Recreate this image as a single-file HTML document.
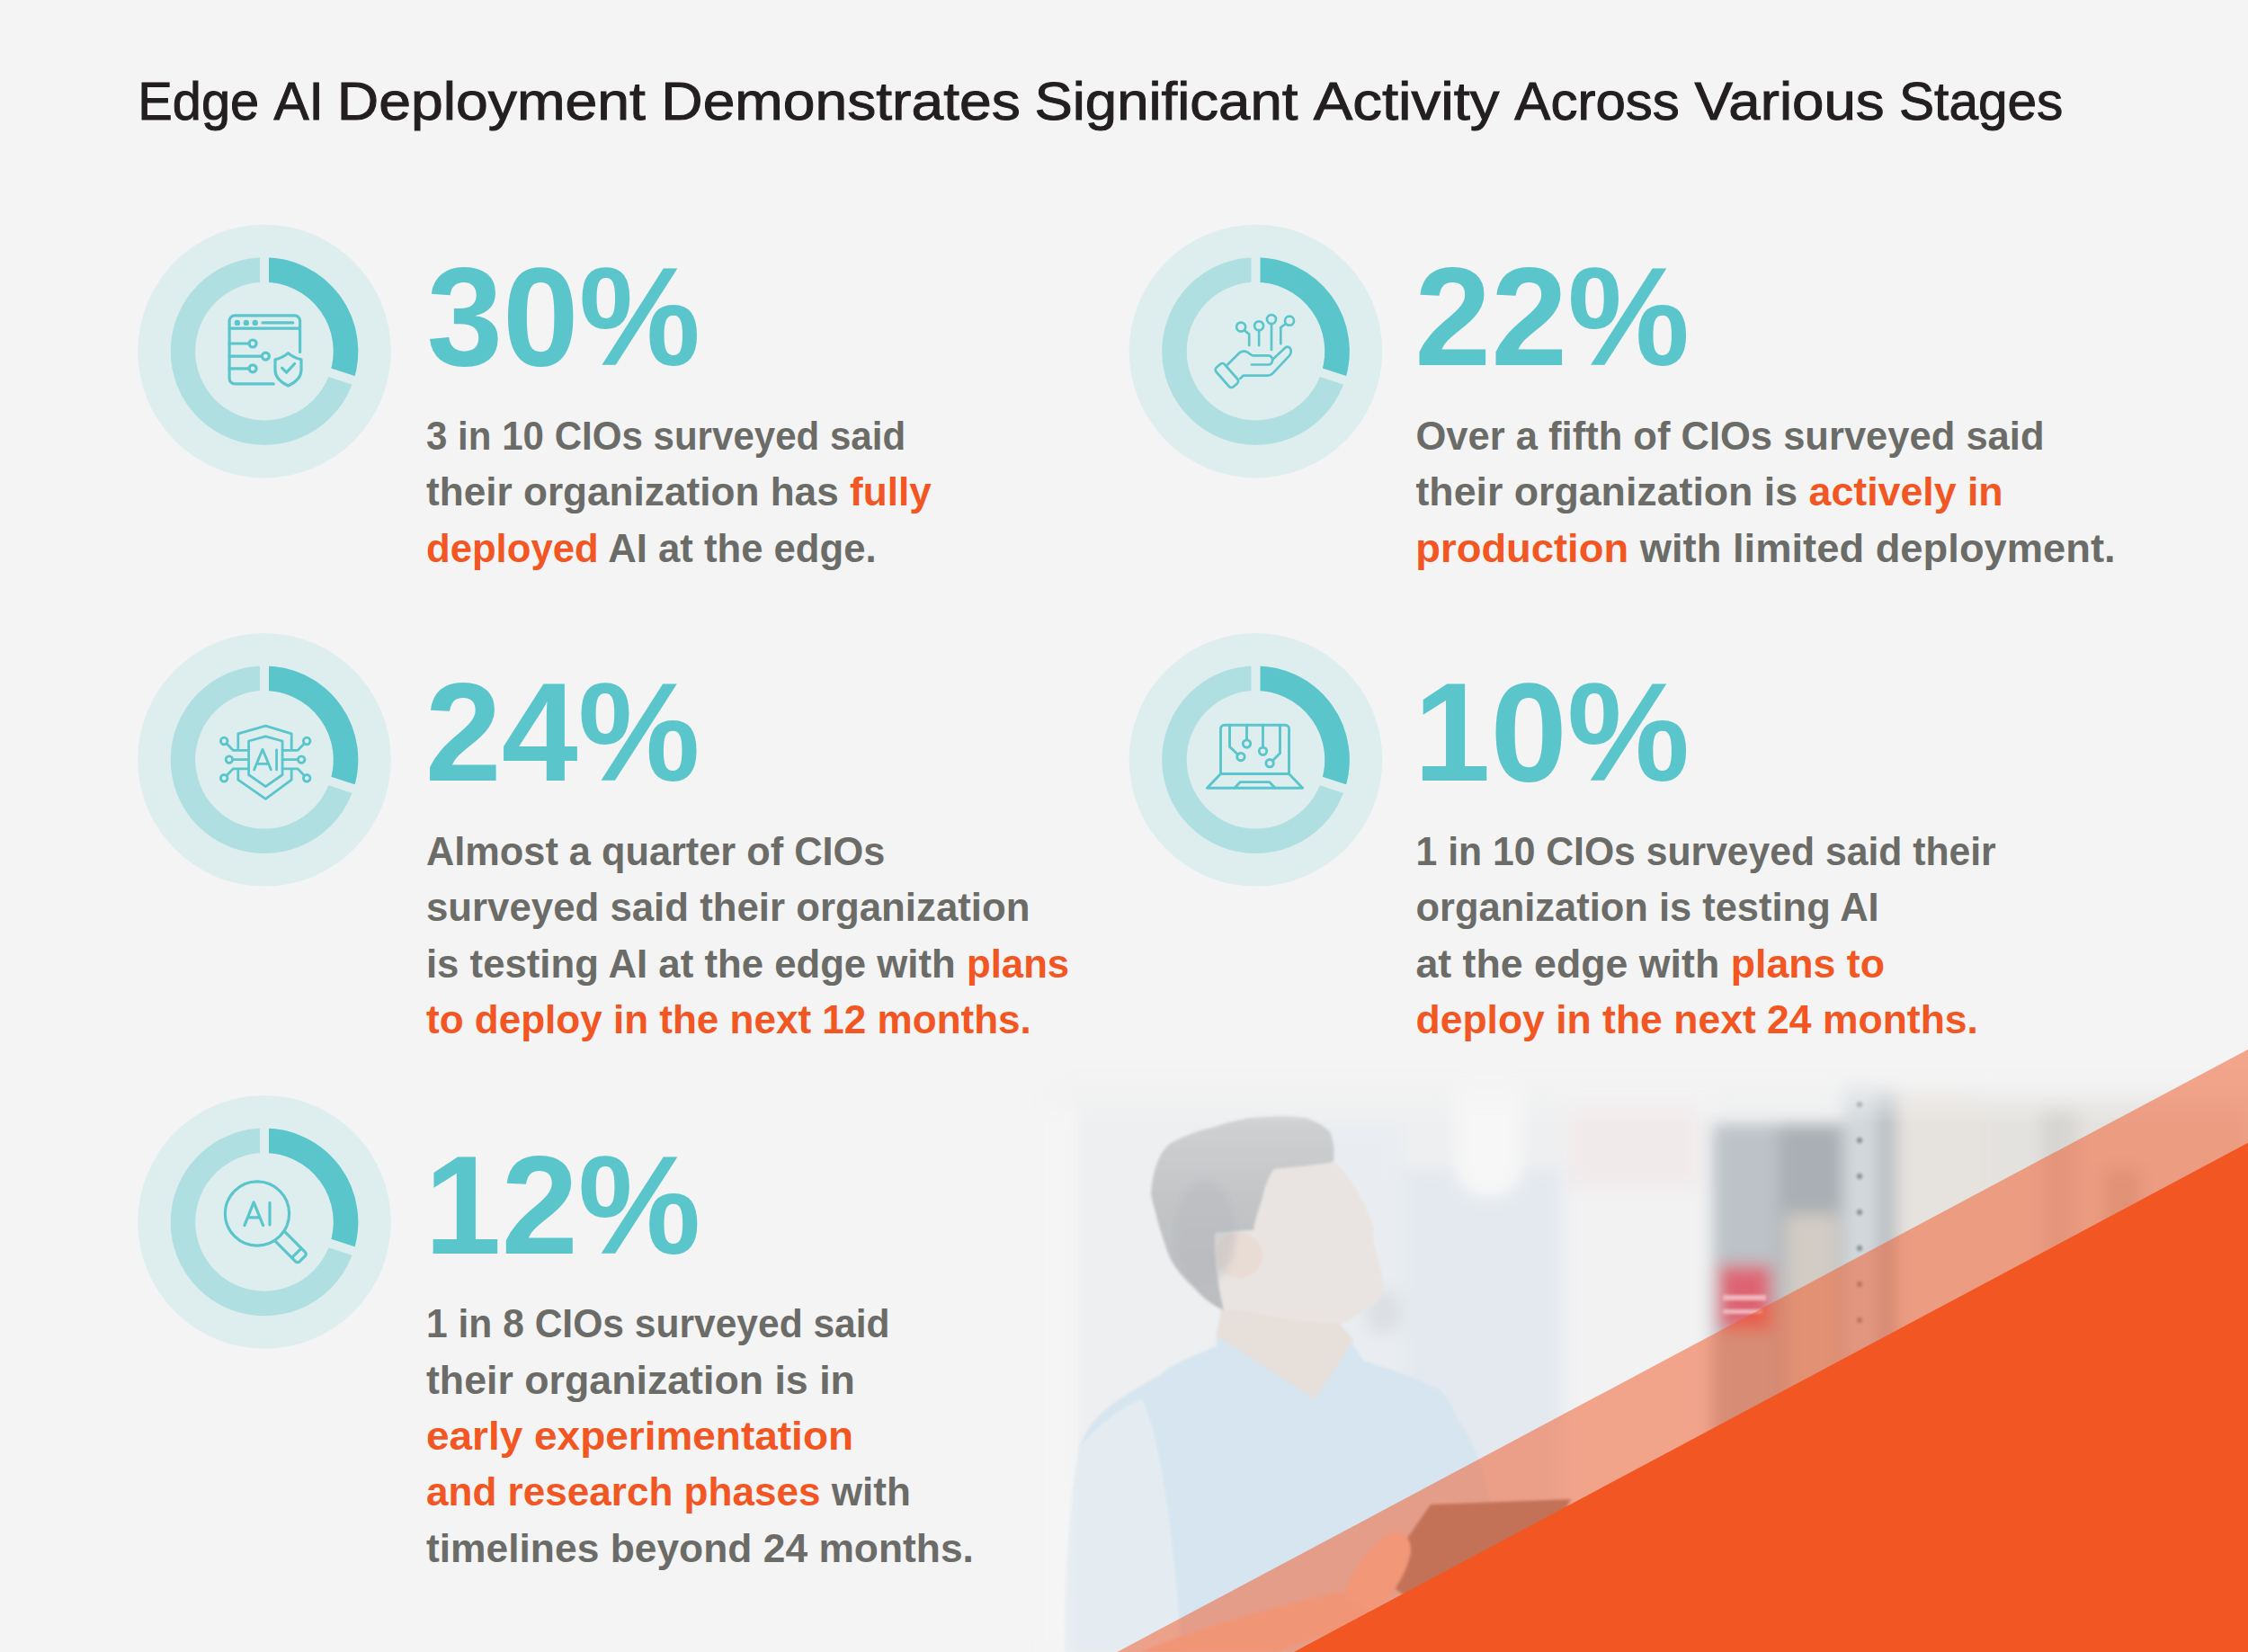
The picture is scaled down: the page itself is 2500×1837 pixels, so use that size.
<!DOCTYPE html>
<html><head><meta charset="utf-8"><title>Edge AI Deployment</title>
<style>html,body{margin:0;padding:0;background:#f4f4f4;width:2500px;height:1837px;overflow:hidden}svg{display:block}text{font-family:"Liberation Sans",sans-serif;}</style>
</head><body>
<svg width="2500" height="1837" viewBox="0 0 2500 1837">
<rect width="2500" height="1837" fill="#f4f4f4"/>
<defs>
 <linearGradient id="fadeL" x1="1145" y1="0" x2="1200" y2="0" gradientUnits="userSpaceOnUse">
  <stop offset="0" stop-color="#000"/><stop offset="1" stop-color="#fff"/>
 </linearGradient>
 <linearGradient id="fadeT" x1="0" y1="1188" x2="0" y2="1250" gradientUnits="userSpaceOnUse">
  <stop offset="0" stop-color="#000"/><stop offset="1" stop-color="#fff"/>
 </linearGradient>
 <mask id="mL" maskUnits="userSpaceOnUse" x="0" y="0" width="2500" height="1837"><rect x="1100" y="1100" width="1400" height="737" fill="url(#fadeL)"/></mask>
 <mask id="mT" maskUnits="userSpaceOnUse" x="0" y="0" width="2500" height="1837"><rect x="1100" y="1100" width="1400" height="737" fill="url(#fadeT)"/></mask>
 <filter id="bl8" x="-20%" y="-20%" width="140%" height="140%"><feGaussianBlur stdDeviation="9"/></filter>
 <filter id="bl1" x="-20%" y="-20%" width="140%" height="140%"><feGaussianBlur stdDeviation="1.5"/></filter>
 <filter id="bl4" x="-20%" y="-20%" width="140%" height="140%"><feGaussianBlur stdDeviation="4"/></filter>
 <linearGradient id="hairG" x1="0" y1="1240" x2="0" y2="1460" gradientUnits="userSpaceOnUse">
  <stop offset="0" stop-color="#d0d1d3"/><stop offset="0.45" stop-color="#c2c4c6"/><stop offset="1" stop-color="#babcbf"/>
 </linearGradient>
</defs>
<g mask="url(#mT)"><g mask="url(#mL)">
 <rect x="1100" y="1100" width="1400" height="737" fill="#eeeff0"/>
 <g filter="url(#bl8)">
  <rect x="1100" y="1230" width="95" height="607" fill="#f6f6f6"/>
  <rect x="1540" y="1300" width="200" height="537" fill="#e4e9ef"/>
  <rect x="1440" y="1250" width="120" height="300" fill="#e9edf1"/>
  <rect x="1620" y="1180" width="72" height="150" rx="30" fill="#f7f7f7"/>
  <rect x="1738" y="1200" width="166" height="637" fill="#f2f2f3"/>
  <rect x="1904" y="1250" width="74" height="587" fill="#bcc2c7"/>
  <rect x="1978" y="1250" width="72" height="587" fill="#a9afb4"/>
  <rect x="1985" y="1350" width="60" height="487" fill="#d2ccc5"/>
  <rect x="2050" y="1200" width="38" height="637" fill="#d3d8dc"/>
  <rect x="2088" y="1210" width="21" height="627" fill="#b9bec2"/>
  <rect x="2109" y="1210" width="96" height="627" fill="#e6e2de"/>
  <rect x="2205" y="1215" width="295" height="622" fill="#e4e2df"/>
  <rect x="2270" y="1230" width="40" height="607" fill="#d7d5d2"/>
  <rect x="2340" y="1300" width="40" height="537" fill="#d0ccc8"/>
  <rect x="1745" y="1225" width="145" height="95" fill="#f1eaeb"/>
  <rect x="1911" y="1407" width="59" height="72" fill="#de6472"/>
  <rect x="1518" y="1434" width="40" height="50" rx="20" fill="#dcdfe2"/>
 </g>
 <g filter="url(#bl1)"><circle cx="2068" cy="1228" r="3.2" fill="#8f959a"/><circle cx="2068" cy="1268" r="3.2" fill="#8f959a"/><circle cx="2068" cy="1308" r="3.2" fill="#8f959a"/><circle cx="2068" cy="1348" r="3.2" fill="#8f959a"/><circle cx="2068" cy="1388" r="3.2" fill="#8f959a"/><circle cx="2068" cy="1428" r="3.2" fill="#8f959a"/><circle cx="2068" cy="1468" r="3.2" fill="#8f959a"/><circle cx="2068" cy="1508" r="3.2" fill="#8f959a"/><circle cx="2068" cy="1548" r="3.2" fill="#8f959a"/><circle cx="2068" cy="1588" r="3.2" fill="#8f959a"/><circle cx="2068" cy="1628" r="3.2" fill="#8f959a"/>
  <rect x="1916" y="1440" width="48" height="6" fill="#eeb8bf"/><rect x="1916" y="1456" width="44" height="5" fill="#eeb8bf"/>
 </g>
 <g filter="url(#bl1)">
  <!-- shirt -->
  <path d="M1353,1497 C1320,1510 1295,1522 1292,1528 C1270,1540 1250,1552 1234,1564 C1215,1578 1206,1595 1200,1610 C1188,1680 1184,1760 1184,1837 L1680,1837 L1662,1690 C1652,1640 1640,1600 1620,1577 C1615,1560 1605,1550 1602,1546 C1570,1530 1540,1520 1516,1513 L1490,1472 L1462,1556 L1353,1480 Z" fill="#d6e5ef"/>
  <path d="M1200,1610 C1215,1590 1240,1570 1270,1555 C1290,1600 1305,1700 1314,1837 L1184,1837 C1184,1760 1188,1680 1200,1610 Z" fill="#e4ecf1"/>
  <!-- neck -->
  <path d="M1361,1440 L1353,1485 L1462,1556 L1505,1490 L1490,1472 L1470,1465 C1430,1470 1390,1460 1361,1440 Z" fill="#e7dfda"/>
  <!-- hair -->
  <path d="M1302,1271 C1320,1262 1335,1256 1348,1254 C1370,1246 1390,1242 1404,1242 C1430,1240 1450,1242 1455,1244 C1470,1250 1478,1256 1480,1261 C1484,1272 1484,1282 1483,1292 C1470,1295 1440,1298 1417,1300 C1410,1310 1406,1322 1404,1333 C1400,1345 1396,1358 1394,1368 L1351,1371 C1350,1400 1355,1430 1361,1457 C1345,1450 1335,1440 1328,1432 C1315,1420 1305,1408 1300,1396 C1292,1375 1285,1350 1280,1328 C1282,1300 1290,1280 1302,1271 Z" fill="url(#hairG)"/>
  <!-- face -->
  <path d="M1417,1300 C1440,1298 1470,1295 1483,1292 C1495,1300 1508,1320 1515,1335 C1520,1345 1525,1355 1528,1366 C1525,1375 1528,1385 1531,1394 C1535,1410 1540,1425 1539,1434 C1535,1445 1528,1452 1519,1455 C1510,1462 1500,1470 1491,1472 C1470,1470 1440,1470 1420,1465 C1395,1460 1375,1455 1361,1457 C1356,1430 1350,1400 1351,1371 L1394,1368 C1396,1355 1400,1343 1404,1333 C1406,1322 1410,1310 1417,1300 Z" fill="#e9e4e1"/>
  <ellipse cx="1378" cy="1396" rx="26" ry="25" fill="#e9dcd5"/>
 </g>
 <g filter="url(#bl1)">
  <path d="M1534,1755 L1591,1673 L1747,1667 L1700,1760 L1600,1800 Z" fill="#958f8c"/>
  <path d="M1488,1790 C1500,1750 1520,1720 1545,1705 C1560,1700 1572,1712 1568,1730 C1560,1760 1540,1785 1520,1800 Z" fill="#f2d9cc"/>
  <path d="M1269,1837 C1320,1815 1400,1790 1490,1770 L1530,1800 C1480,1815 1440,1830 1420,1837 Z" fill="#efd6c9"/>
 </g>
 <g filter="url(#bl4)">
  <ellipse cx="1340" cy="1370" rx="34" ry="58" fill="#b6b9bc" opacity="0.45"/>
 </g>
</g></g>

<polygon points="2500,1166.9 1242.5,1837 2500,1837" fill="#f15623" fill-opacity="0.5"/>
<polygon points="2500,1270.8 1439,1837 2500,1837" fill="#f15623"/>
<g transform="translate(294,390.6)">
<circle r="140.8" fill="#deeeef"/>
<circle r="90.55" fill="none" stroke="#b0dfe1" stroke-width="27.5"/>
<path d="M0,-90.55 A90.55,90.55 0 0 1 86.12,27.98" fill="none" stroke="#5bc5cc" stroke-width="27.5"/>
<line x1="0" y1="-70" x2="0" y2="-112" stroke="#deeeef" stroke-width="10"/>
<line x1="66.57" y1="21.63" x2="106.52" y2="34.61" stroke="#deeeef" stroke-width="10"/>
<g fill="none" stroke="#5bc5cc" stroke-linecap="round" stroke-linejoin="round">
<g stroke-width="3.2">
<path d="M39.6,0.8 V-33.8 a6,6 0 0 0 -6,-6 H-32.9 a6,6 0 0 0 -6,6 V30.3 a6,6 0 0 0 6,6 H10.2"/>
<line x1="-38.9" y1="-25.5" x2="39.6" y2="-25.5"/>
<line x1="-2" y1="-31.7" x2="31.8" y2="-31.7"/>
<path d="M-38.9,-8.6 H-17 M-38.9,5.5 H-2.7 M-38.9,19.2 H-17"/>
<circle cx="-12.9" cy="-8.6" r="4"/><circle cx="1.4" cy="5.5" r="4"/><circle cx="-12.9" cy="19.2" r="4"/>
<path d="M26.5,2 C22,6 17,8 12,9.2 V21 C12,30 19,35 26.5,38.4 C34,35 41,30 41,21 V9.2 C36,8 31,6 26.5,2 Z"/>
<path d="M19.6,18.6 L24.6,23.6 L33.6,13.9"/>
</g>
<g fill="#5bc5cc" stroke="none"><circle cx="-30.1" cy="-31.7" r="3.2"/><circle cx="-20.2" cy="-31.7" r="3.2"/><circle cx="-10.3" cy="-31.7" r="3.2"/></g>
</g></g>
<g transform="translate(1396.5,390.6)">
<circle r="140.8" fill="#deeeef"/>
<circle r="90.55" fill="none" stroke="#b0dfe1" stroke-width="27.5"/>
<path d="M0,-90.55 A90.55,90.55 0 0 1 86.12,27.98" fill="none" stroke="#5bc5cc" stroke-width="27.5"/>
<line x1="0" y1="-70" x2="0" y2="-112" stroke="#deeeef" stroke-width="10"/>
<line x1="66.57" y1="21.63" x2="106.52" y2="34.61" stroke="#deeeef" stroke-width="10"/>
<g fill="none" stroke="#5bc5cc" stroke-linecap="round" stroke-linejoin="round">
<g stroke-width="2.7">
<circle cx="-16.4" cy="-27" r="5"/><circle cx="3.6" cy="-28.3" r="5"/><circle cx="17.5" cy="-35.5" r="5"/><circle cx="37.5" cy="-33.9" r="5"/>
<path d="M-12.6,-23.2 L-7.3,-19 V-6.5"/>
<path d="M3.6,-23.3 V-6.5"/>
<path d="M17.5,-30.5 V-1.7"/>
<path d="M33.5,-30.6 L27.8,-26.4 V-8.3"/>
<rect x="-14.3" y="-6.25" width="28.6" height="12.5" rx="3.5" transform="translate(-32.1,26.9) rotate(48.7)"/>
<path d="M-31.1,14.6 L-18.3,1.9 C-16,-0.3 -12,-0.6 -9.5,0.9 L-5,4 C-4,4.6 -3,4.8 -2,4.8 H13.9 C17,4.8 19,7.5 18.6,10.5 C18.2,13 16.5,14.9 13.5,14.9 H-4.6"/>
<path d="M18.8,9.2 L33,-4 C35,-5.8 38,-4.8 39,-2 C39.6,0 39,2.5 37.5,4.8 L19,24.5 C17.5,26.2 15.8,27.1 13.5,27.1 H-13.9 L-17.4,30.3"/>
</g>
</g></g>
<g transform="translate(294,844.8)">
<circle r="140.8" fill="#deeeef"/>
<circle r="90.55" fill="none" stroke="#b0dfe1" stroke-width="27.5"/>
<path d="M0,-90.55 A90.55,90.55 0 0 1 86.12,27.98" fill="none" stroke="#5bc5cc" stroke-width="27.5"/>
<line x1="0" y1="-70" x2="0" y2="-112" stroke="#deeeef" stroke-width="10"/>
<line x1="66.57" y1="21.63" x2="106.52" y2="34.61" stroke="#deeeef" stroke-width="10"/>
<g fill="none" stroke="#5bc5cc" stroke-linecap="round" stroke-linejoin="round">
<g stroke-width="2.8">
<path d="M-29.2,-12.4 V-28.9 L1.4,-37.7 L30.2,-28.9 V-12.4 M30.2,12 V22.3 L1.4,43.5 L-29.2,22.3 V12"/>
<path d="M1.4,-25.9 L20.1,-20.8 V16.7 L1.4,29.8 L-17.4,16.7 V-20.8 Z"/>
<path d="M-11.4,11.1 L-2,-11.4 L7.4,11.1 M-8.3,4.5 H4.3 M13.6,-11 V11.1"/>
<circle cx="-44.8" cy="-20.8" r="3.8"/><circle cx="-39.1" cy="-0.2" r="3.8"/><circle cx="-44.8" cy="20.5" r="3.8"/>
<circle cx="47.2" cy="-20.8" r="3.8"/><circle cx="41.2" cy="-0.2" r="3.8"/><circle cx="47.2" cy="20.5" r="3.8"/>
<path d="M-42,-18 L-34.8,-10.5 H-17.4 M-35.3,-0.2 H-17.4 M-42,17.7 L-34.8,10.1 H-17.4"/>
<path d="M44.4,-18 L37.2,-10.5 H20.1 M37.4,-0.2 H20.1 M44.4,17.7 L37.2,10.1 H20.1"/>
</g>
</g></g>
<g transform="translate(1396.5,844.8)">
<circle r="140.8" fill="#deeeef"/>
<circle r="90.55" fill="none" stroke="#b0dfe1" stroke-width="27.5"/>
<path d="M0,-90.55 A90.55,90.55 0 0 1 86.12,27.98" fill="none" stroke="#5bc5cc" stroke-width="27.5"/>
<line x1="0" y1="-70" x2="0" y2="-112" stroke="#deeeef" stroke-width="10"/>
<line x1="66.57" y1="21.63" x2="106.52" y2="34.61" stroke="#deeeef" stroke-width="10"/>
<g fill="none" stroke="#5bc5cc" stroke-linecap="round" stroke-linejoin="round">
<g stroke-width="2.9">
<path d="M-39,15.7 V-34.5 a4,4 0 0 1 4,-4 H33 a4,4 0 0 1 4,4 V15.7 Z"/>
<path d="M-39,15.7 L-54.1,31.4 H52.1 L37,15.7"/>
<path d="M-23.6,31.4 L-17.1,24.8 H15.1 L21.6,31.4"/>
<path d="M-29,-38.5 V-14.4 L-19.6,-5.6"/><circle cx="-16.6" cy="-3.2" r="4.2"/>
<path d="M-10,-38.5 V-22"/><circle cx="-10" cy="-17.7" r="4.2"/>
<path d="M8,-38.5 V-13.8"/><circle cx="8" cy="-9.5" r="4.2"/>
<path d="M27,-38.5 V-7.3 L18.6,1.2"/><circle cx="15.6" cy="3.9" r="4.2"/>
</g>
</g></g>
<g transform="translate(294,1358.9)">
<circle r="140.8" fill="#deeeef"/>
<circle r="90.55" fill="none" stroke="#b0dfe1" stroke-width="27.5"/>
<path d="M0,-90.55 A90.55,90.55 0 0 1 86.12,27.98" fill="none" stroke="#5bc5cc" stroke-width="27.5"/>
<line x1="0" y1="-70" x2="0" y2="-112" stroke="#deeeef" stroke-width="10"/>
<line x1="66.57" y1="21.63" x2="106.52" y2="34.61" stroke="#deeeef" stroke-width="10"/>
<g fill="none" stroke="#5bc5cc" stroke-linecap="round" stroke-linejoin="round">
<g stroke-width="3.2">
<circle cx="-8" cy="-9.4" r="35.6"/>
<g transform="translate(-8,-9.4) rotate(45)"><path d="M35.6,-7.5 H68 a3,3 0 0 1 3,3 V4.5 a3,3 0 0 1 -3,3 H35.6"/><line x1="62" y1="-7.5" x2="62" y2="7.5"/></g>
<path d="M-22.1,3.7 L-11.8,-22 L-1.4,3.7 M-18.5,-5.1 H-5 M6,-21.5 V2.9"/>
</g>
</g></g>
<text x="153.26" y="133.00" font-size="59.5" font-weight="400" textLength="134.90" lengthAdjust="spacingAndGlyphs" stroke="#231f20" stroke-width="1.0"><tspan fill="#231f20">Edge</tspan></text>
<text x="304.39" y="133.00" font-size="59.5" font-weight="400" textLength="55.54" lengthAdjust="spacingAndGlyphs" stroke="#231f20" stroke-width="1.0"><tspan fill="#231f20">AI</tspan></text>
<text x="374.72" y="133.00" font-size="59.5" font-weight="400" textLength="343.15" lengthAdjust="spacingAndGlyphs" stroke="#231f20" stroke-width="1.0"><tspan fill="#231f20">Deployment</tspan></text>
<text x="735.34" y="133.00" font-size="59.5" font-weight="400" textLength="399.48" lengthAdjust="spacingAndGlyphs" stroke="#231f20" stroke-width="1.0"><tspan fill="#231f20">Demonstrates</tspan></text>
<text x="1150.42" y="133.00" font-size="59.5" font-weight="400" textLength="292.95" lengthAdjust="spacingAndGlyphs" stroke="#231f20" stroke-width="1.0"><tspan fill="#231f20">Significant</tspan></text>
<text x="1460.67" y="133.00" font-size="59.5" font-weight="400" textLength="206.86" lengthAdjust="spacingAndGlyphs" stroke="#231f20" stroke-width="1.0"><tspan fill="#231f20">Activity</tspan></text>
<text x="1684.38" y="133.00" font-size="59.5" font-weight="400" textLength="183.49" lengthAdjust="spacingAndGlyphs" stroke="#231f20" stroke-width="1.0"><tspan fill="#231f20">Across</tspan></text>
<text x="1884.62" y="133.00" font-size="59.5" font-weight="400" textLength="210.98" lengthAdjust="spacingAndGlyphs" stroke="#231f20" stroke-width="1.0"><tspan fill="#231f20">Various</tspan></text>
<text x="2112.04" y="133.00" font-size="59.5" font-weight="400" textLength="182.38" lengthAdjust="spacingAndGlyphs" stroke="#231f20" stroke-width="1.0"><tspan fill="#231f20">Stages</tspan></text>
<text x="474.51" y="406.00" font-size="155" font-weight="700" textLength="304.50" lengthAdjust="spacingAndGlyphs"><tspan fill="#5bc5cc">30%</tspan></text>
<text x="1573.20" y="406.00" font-size="155" font-weight="700" textLength="305.83" lengthAdjust="spacingAndGlyphs"><tspan fill="#5bc5cc">22%</tspan></text>
<text x="472.81" y="868.00" font-size="155" font-weight="700" textLength="305.62" lengthAdjust="spacingAndGlyphs"><tspan fill="#5bc5cc">24%</tspan></text>
<text x="1572.25" y="868.00" font-size="155" font-weight="700" textLength="306.80" lengthAdjust="spacingAndGlyphs"><tspan fill="#5bc5cc">10%</tspan></text>
<text x="471.92" y="1393.60" font-size="155" font-weight="700" textLength="307.63" lengthAdjust="spacingAndGlyphs"><tspan fill="#5bc5cc">12%</tspan></text>
<text x="474.03" y="500.00" font-size="43.5" font-weight="700" textLength="533.14" lengthAdjust="spacingAndGlyphs"><tspan fill="#6b6c68">3 in 10 CIOs surveyed said</tspan></text>
<text x="473.99" y="562.40" font-size="43.5" font-weight="700" textLength="561.75" lengthAdjust="spacingAndGlyphs"><tspan fill="#6b6c68">their organization has </tspan><tspan fill="#f15623">fully</tspan></text>
<text x="473.99" y="624.80" font-size="43.5" font-weight="700" textLength="500.61" lengthAdjust="spacingAndGlyphs"><tspan fill="#f15623">deployed</tspan><tspan fill="#6b6c68"> AI at the edge.</tspan></text>
<text x="1574.50" y="500.00" font-size="43.5" font-weight="700" textLength="698.97" lengthAdjust="spacingAndGlyphs"><tspan fill="#6b6c68">Over a fifth of CIOs surveyed said</tspan></text>
<text x="1574.49" y="562.40" font-size="43.5" font-weight="700" textLength="653.19" lengthAdjust="spacingAndGlyphs"><tspan fill="#6b6c68">their organization is </tspan><tspan fill="#f15623">actively in</tspan></text>
<text x="1574.38" y="624.80" font-size="43.5" font-weight="700" textLength="778.34" lengthAdjust="spacingAndGlyphs"><tspan fill="#f15623">production</tspan><tspan fill="#6b6c68"> with limited deployment.</tspan></text>
<text x="474.00" y="962.00" font-size="43.5" font-weight="700" textLength="510.27" lengthAdjust="spacingAndGlyphs"><tspan fill="#6b6c68">Almost a quarter of CIOs</tspan></text>
<text x="473.99" y="1024.40" font-size="43.5" font-weight="700" textLength="671.52" lengthAdjust="spacingAndGlyphs"><tspan fill="#6b6c68">surveyed said their organization</tspan></text>
<text x="473.98" y="1086.80" font-size="43.5" font-weight="700" textLength="715.21" lengthAdjust="spacingAndGlyphs"><tspan fill="#6b6c68">is testing AI at the edge with </tspan><tspan fill="#f15623">plans</tspan></text>
<text x="473.99" y="1149.20" font-size="43.5" font-weight="700" textLength="672.84" lengthAdjust="spacingAndGlyphs"><tspan fill="#f15623">to deploy in the next 12 months.</tspan></text>
<text x="1574.55" y="962.00" font-size="43.5" font-weight="700" textLength="645.19" lengthAdjust="spacingAndGlyphs"><tspan fill="#6b6c68">1 in 10 CIOs surveyed said their</tspan></text>
<text x="1574.50" y="1024.40" font-size="43.5" font-weight="700" textLength="515.11" lengthAdjust="spacingAndGlyphs"><tspan fill="#6b6c68">organization is testing AI</tspan></text>
<text x="1574.46" y="1086.80" font-size="43.5" font-weight="700" textLength="521.58" lengthAdjust="spacingAndGlyphs"><tspan fill="#6b6c68">at the edge with </tspan><tspan fill="#f15623">plans to</tspan></text>
<text x="1574.46" y="1149.20" font-size="43.5" font-weight="700" textLength="625.50" lengthAdjust="spacingAndGlyphs"><tspan fill="#f15623">deploy in the next 24 months.</tspan></text>
<text x="474.06" y="1487.10" font-size="43.5" font-weight="700" textLength="515.54" lengthAdjust="spacingAndGlyphs"><tspan fill="#6b6c68">1 in 8 CIOs surveyed said</tspan></text>
<text x="473.99" y="1549.50" font-size="43.5" font-weight="700" textLength="476.89" lengthAdjust="spacingAndGlyphs"><tspan fill="#6b6c68">their organization is in</tspan></text>
<text x="473.90" y="1611.90" font-size="43.5" font-weight="700" textLength="475.15" lengthAdjust="spacingAndGlyphs"><tspan fill="#f15623">early experimentation</tspan></text>
<text x="473.98" y="1674.30" font-size="43.5" font-weight="700" textLength="538.85" lengthAdjust="spacingAndGlyphs"><tspan fill="#f15623">and research phases</tspan><tspan fill="#6b6c68"> with</tspan></text>
<text x="473.99" y="1736.70" font-size="43.5" font-weight="700" textLength="608.97" lengthAdjust="spacingAndGlyphs"><tspan fill="#6b6c68">timelines beyond 24 months.</tspan></text>
</svg></body></html>
